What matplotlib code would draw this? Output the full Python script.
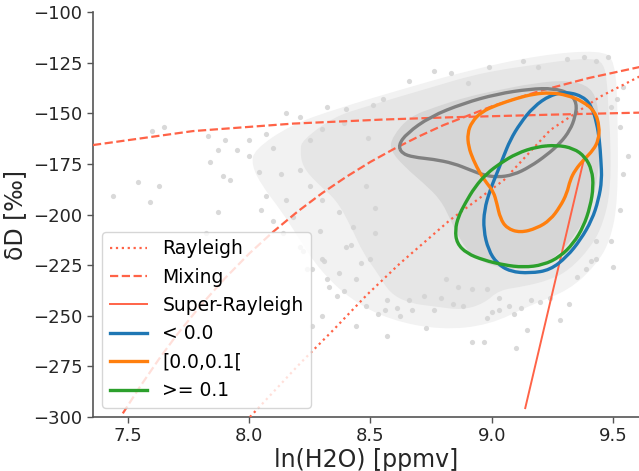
import numpy as np
import matplotlib
matplotlib.use("Agg")
import matplotlib.pyplot as plt
from matplotlib.path import Path
from matplotlib.patches import PathPatch
from matplotlib.lines import Line2D

plt.rcParams['font.family'] = ['DejaVu Sans']

# --- model curves (ln(H2O), dD) ---
rayleigh_x = [8.003, 8.21, 8.347, 8.485, 8.622, 8.828, 9.05, 9.241, 9.447, 9.608]
rayleigh_y = [-300.0, -273.5, -257.0, -239.7, -224.1, -202.7, -183.0, -158.3, -141.8, -131.9]

mix1_x = [7.356, 7.768, 8.181, 8.552, 8.828, 9.241, 9.608]
mix1_y = [-165.7, -158.8, -155.1, -153.1, -152.0, -150.7, -149.7]

mix2_x = [7.479, 7.55, 7.632, 7.7, 7.8, 7.9, 8.0, 8.1, 8.2, 8.3, 8.4, 8.5, 8.6, 8.7, 8.8, 9.0, 9.2, 9.4, 9.608]
mix2_y = [-298.2, -285.0, -270.7, -259.7, -244.9, -231.5, -219.3, -208.4, -198.5, -189.5, -181.4, -174.0,
          -167.4, -161.4, -155.9, -146.6, -138.9, -132.6, -127.2]

superr_x = [9.138, 9.381]
superr_y = [-295.6, -172.1]

# --- density contours ---
gray_x = [8.615, 8.650, 8.746, 8.883, 9.021, 9.158, 9.254, 9.323, 9.351, 9.344, 9.323,
          9.282, 9.227, 9.158, 9.089, 9.021, 8.966, 8.911, 8.842, 8.759, 8.677, 8.629]
gray_y = [-165.7, -159.9, -151.7, -145.1, -140.5, -138.0, -137.7, -140.1, -145.1, -151.7, -158.3,
          -164.8, -170.6, -176.4, -180.5, -181.6, -180.5, -178.0, -174.7, -172.7, -171.7, -169.8]

blue_x = [9.310, 9.378, 9.413, 9.433, 9.444, 9.450, 9.454, 9.440, 9.413, 9.365, 9.310, 9.241,
          9.158, 9.076, 9.021, 8.986, 8.966, 8.969, 8.993, 9.021, 9.048, 9.076, 9.117, 9.172, 9.241]
blue_y = [-139.4, -141.8, -146.8, -155.0, -163.2, -173.1, -183.0, -192.8, -202.7, -212.6, -220.8, -227.4,
          -229.0, -228.2, -224.1, -217.5, -207.6, -197.8, -187.9, -179.7, -171.5, -163.2, -155.0, -146.8, -141.0]

orange_x = [9.241, 9.310, 9.378, 9.426, 9.444, 9.440, 9.419, 9.378, 9.344, 9.323, 9.310, 9.282, 9.241, 9.186,
            9.117, 9.062, 9.035, 9.021, 9.007, 8.980, 8.952, 8.924, 8.904, 8.900, 8.918, 8.959, 9.021, 9.103, 9.172]
orange_y = [-139.8, -141.0, -144.3, -149.2, -156.6, -163.2, -168.1, -173.1, -178.0, -183.0, -189.5, -196.1, -202.7, -206.8,
            -209.0, -206.8, -201.9, -194.5, -188.7, -184.6, -179.7, -173.1, -166.5, -159.9, -154.2, -149.2, -145.9, -142.6, -140.5]

green_x = [9.268, 9.337, 9.385, 9.413, 9.419, 9.406, 9.378, 9.337, 9.282, 9.213, 9.131, 9.048,
           8.966, 8.897, 8.856, 8.849, 8.862, 8.890, 8.931, 8.980, 9.035, 9.103, 9.186]
green_y = [-165.7, -167.3, -171.5, -178.0, -186.3, -196.1, -206.0, -214.2, -220.8, -224.9, -226.1, -224.9,
           -222.5, -219.2, -214.2, -207.6, -201.1, -194.5, -186.3, -179.7, -174.7, -169.8, -166.5]

# --- observation cloud: envelopes of the point density, plus sparse outlying points ---
cloud_faint_x = [8.02, 8.17, 8.37, 8.62, 8.91, 9.20, 9.447, 9.51, 9.52, 9.52, 9.49, 9.43,
                 9.32, 9.16, 8.99, 8.79, 8.58, 8.42, 8.29, 8.21, 8.13, 8.05, 8.01]
cloud_faint_y = [-168.1, -155.8, -147.4, -138.5, -128.6, -121.2, -118.8, -123.7, -153.3, -192.8, -212.6, -224.9,
                 -237.3, -244.7, -254.6, -257.0, -252.1, -242.2, -227.4, -212.6, -197.8, -185.4, -175.5]

cloud_mid_x = [8.22, 8.35, 8.48, 8.62, 8.76, 8.90, 9.03, 9.17, 9.31, 9.42, 9.46, 9.475, 9.48, 9.49, 9.49,
               9.46, 9.41, 9.32, 9.24, 9.13, 9.03, 8.97, 8.88, 8.77, 8.66, 8.58, 8.53, 8.47, 8.42, 8.36,
               8.28, 8.22, 8.21]
cloud_mid_y = [-163.2, -151.7, -146.8, -141.8, -136.9, -131.9, -128.6, -126.2, -123.7, -122.9, -125.3, -133.6,
               -146.8, -163.2, -187.9, -204.3, -215.9, -227.4, -232.3, -235.6, -237.3, -243.8, -247.2, -245.5,
               -243.8, -238.9, -229.0, -219.2, -206.0, -192.8, -184.6, -176.4, -168.1]

cloud_core_x = [8.59, 8.66, 8.77, 8.90, 9.03, 9.17, 9.31, 9.41, 9.44, 9.447, 9.44, 9.41, 9.35, 9.28,
                9.20, 9.10, 9.01, 8.92, 8.87, 8.83, 8.79, 8.72, 8.64, 8.58]
cloud_core_y = [-161.6, -151.7, -146.8, -141.8, -138.5, -135.2, -133.6, -136.9, -146.8, -163.2, -179.7, -196.1,
                -209.3, -219.2, -225.8, -227.4, -225.8, -220.8, -212.6, -202.7, -192.8, -184.6, -176.4, -168.1]

sparse_x = [7.60, 7.65, 7.54, 7.63, 7.44, 7.59, 7.87, 7.82, 7.84, 7.89, 7.92, 7.83, 7.87, 7.90, 7.95,
            8.00, 8.07, 8.00, 8.04, 8.07, 8.05, 8.13, 8.15, 8.21, 8.32, 8.40, 8.51, 8.15, 8.18, 8.10,
            8.14, 8.21, 8.30, 8.24, 8.32, 8.40, 8.46, 8.43, 8.37, 8.30, 8.25, 8.21, 8.10, 8.30, 8.25,
            8.39, 8.49, 8.48, 8.52, 8.52, 8.50, 8.29, 8.42, 8.31, 8.37, 8.33, 8.39, 8.44, 8.26, 8.30,
            8.44, 8.56, 8.57, 8.62, 8.73, 8.67, 8.76, 8.84, 8.88, 8.92, 8.97, 9.00, 8.98, 9.03, 9.07,
            9.09, 9.10, 9.12, 9.16, 9.145, 9.20, 9.24, 9.28, 9.32, 9.35, 9.39, 9.41, 9.43, 9.03, 8.98,
            8.92, 8.86, 8.79, 8.72, 8.66, 8.61, 8.53, 8.48, 8.57, 8.81, 8.22, 8.26, 8.36, 9.53, 9.54,
            9.53, 9.49, 9.50, 9.43, 9.56, 9.49, 9.48, 9.43, 8.66, 8.83, 8.76, 8.99, 9.13, 9.19, 9.31,
            9.38, 9.54, 9.515, 8.90, 8.55]
sparse_y = [-159, -157, -184, -186, -191, -194, -199, -209, -174, -181, -183, -161, -168, -163, -168,
            -163, -160, -171, -179, -191, -198, -180, -150, -152, -147, -148, -146, -193, -201, -203,
            -209, -216, -222, -227, -232, -216, -224, -206, -199, -193, -186, -178, -167, -158, -163,
            -155, -162, -186, -197, -209, -222, -208, -215, -223, -229, -236, -238, -232, -255, -250,
            -255, -247, -260, -250, -256, -247, -247, -244, -245, -263, -263, -248, -251, -247, -245,
            -249, -266, -246, -242, -257, -243, -241, -252, -244, -231, -227, -223, -213, -241, -237,
            -237, -236, -241, -240, -242, -246, -249, -245, -242, -232, -218, -227, -240, -157, -180,
            -198, -213, -226, -222, -171, -147, -122, -124, -134, -130, -129, -127, -124, -127, -123,
            -122, -137, -143, -135, -143]

line_col = "tomato"


def smooth_closed(xs, ys):
    # closed quadratic-bezier path through the midpoints of the read outline
    pts = np.column_stack([xs, ys])
    n = len(pts)
    mids = (pts + np.roll(pts, -1, axis=0)) / 2
    verts = [mids[-1]]
    codes = [Path.MOVETO]
    for i in range(n):
        verts += [pts[i], mids[i]]
        codes += [Path.CURVE3, Path.CURVE3]
    return Path(verts, codes)


fig = plt.figure(figsize=(6.39, 4.71), dpi=100)
ax = fig.add_axes([0.1455, 0.1146, 0.8545, 0.8599])

for xs, ys, c in [(cloud_faint_x, cloud_faint_y, "#f2f2f2"),
                  (cloud_mid_x, cloud_mid_y, "#e6e6e6"),
                  (cloud_core_x, cloud_core_y, "#d6d6d6")]:
    ax.add_patch(PathPatch(smooth_closed(xs, ys), facecolor=c, edgecolor="none", zorder=1))
ax.scatter(sparse_x, sparse_y, s=14, color="lightgrey", alpha=0.85, lw=0, zorder=2)

ax.plot(rayleigh_x, rayleigh_y, ls=":", color=line_col, lw=1.6, zorder=3)
ax.plot(mix1_x, mix1_y, ls="--", color=line_col, lw=1.6, zorder=3)
ax.plot(mix2_x, mix2_y, ls="--", color=line_col, lw=1.6, zorder=3)
ax.plot(superr_x, superr_y, ls="-", color=line_col, lw=1.4, zorder=3)

for xs, ys, c in [(gray_x, gray_y, "grey"), (blue_x, blue_y, "tab:blue"),
                  (orange_x, orange_y, "tab:orange"), (green_x, green_y, "tab:green")]:
    ax.add_patch(PathPatch(smooth_closed(xs, ys), fill=False, edgecolor=c, lw=2.4, zorder=4))

ax.set_xlim(7.356, 9.607)
ax.set_ylim(-300, -100)
ax.set_xticks([7.5, 8.0, 8.5, 9.0, 9.5])
ax.set_yticks(np.arange(-300, -99, 25))

for side in ["top", "right"]:
    ax.spines[side].set_visible(False)
for side in ["left", "bottom"]:
    ax.spines[side].set_color("#555555")
    ax.spines[side].set_linewidth(1.2)
ax.tick_params(axis="both", labelsize=13, colors="#262626", length=4, width=1, color="#555555")

ax.set_xlabel("ln(H2O) [ppmv]", fontsize=17, color="#262626", labelpad=2)
ax.set_ylabel("δD [‰]", fontsize=17, color="#262626", labelpad=4)

handles = [
    Line2D([], [], ls=":", color=line_col, lw=1.6),
    Line2D([], [], ls="--", color=line_col, lw=1.6),
    Line2D([], [], ls="-", color=line_col, lw=1.4),
    Line2D([], [], color="tab:blue", lw=2.4),
    Line2D([], [], color="tab:orange", lw=2.4),
    Line2D([], [], color="tab:green", lw=2.4),
]
labels = ["Rayleigh", "Mixing", "Super-Rayleigh", "< 0.0", "[0.0,0.1[", ">= 0.1"]
ax.legend(handles, labels, loc="lower left", fontsize=13.5, handlelength=2.0,
          borderaxespad=0.5, labelspacing=0.5)

fig.savefig("out.png", dpi=100)
